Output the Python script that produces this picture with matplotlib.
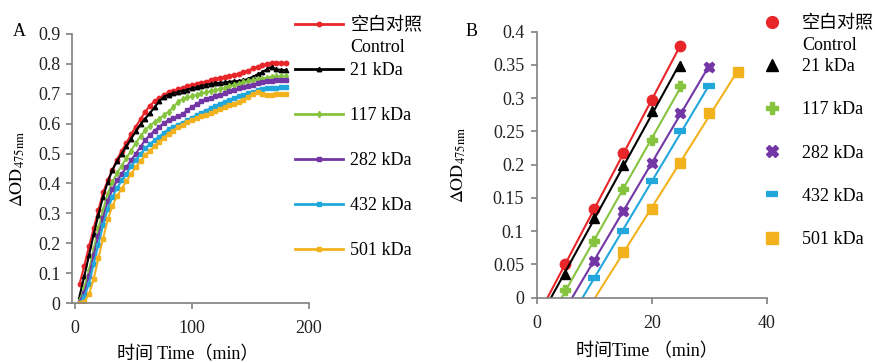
import numpy as np
import matplotlib
matplotlib.use("Agg")
import matplotlib.pyplot as plt
from matplotlib.lines import Line2D

# fonts: serif for latin text, CJK fallback for the chinese words
plt.rcParams['font.family'] = ['Liberation Serif', 'Noto Sans CJK SC']
plt.rcParams['mathtext.fontset'] = 'stix'

labels = ["空白对照", "21 kDa", "117 kDa", "282 kDa", "432 kDa", "501 kDa"]
colors = ["#e8262a", "#000000", "#86c440", "#7236a5", "#22a7dc", "#f2b21e"]

# ---- panel A: time course (min) ----
time_a = np.arange(4, 181, 4)
ctrl_a = [0.065, 0.125, 0.19, 0.25, 0.31, 0.37, 0.41, 0.445, 0.48, 0.51, 0.535, 0.565, 0.59, 0.615, 0.64,
          0.66, 0.675, 0.685, 0.695, 0.705, 0.71, 0.715, 0.72, 0.725, 0.73, 0.732, 0.737, 0.74, 0.745, 0.75,
          0.752, 0.757, 0.76, 0.763, 0.767, 0.772, 0.777, 0.785, 0.79, 0.795, 0.8, 0.803, 0.803, 0.804, 0.803]
kda21_a = [0.025, 0.09, 0.16, 0.23, 0.295, 0.355, 0.405, 0.445, 0.475, 0.5, 0.525, 0.55, 0.575, 0.598, 0.617,
           0.635, 0.655, 0.675, 0.69, 0.697, 0.702, 0.706, 0.71, 0.714, 0.718, 0.722, 0.726, 0.73, 0.733, 0.735,
           0.737, 0.738, 0.74, 0.742, 0.743, 0.745, 0.75, 0.757, 0.765, 0.772, 0.782, 0.79, 0.782, 0.78, 0.779]
kda117_a = [0.01, 0.05, 0.11, 0.18, 0.25, 0.31, 0.365, 0.405, 0.435, 0.46, 0.485, 0.51, 0.535, 0.558, 0.578,
            0.593, 0.605, 0.616, 0.628, 0.64, 0.655, 0.672, 0.682, 0.688, 0.692, 0.697, 0.701, 0.705, 0.709, 0.712,
            0.716, 0.72, 0.725, 0.73, 0.734, 0.738, 0.742, 0.745, 0.748, 0.751, 0.754, 0.757, 0.758, 0.759, 0.759]
kda282_a = [0.005, 0.035, 0.09, 0.16, 0.225, 0.285, 0.34, 0.38, 0.41, 0.432, 0.455, 0.478, 0.5, 0.523, 0.545,
            0.562, 0.577, 0.59, 0.602, 0.612, 0.618, 0.624, 0.632, 0.645, 0.656, 0.666, 0.675, 0.682, 0.687, 0.691,
            0.696, 0.702, 0.708, 0.713, 0.718, 0.722, 0.727, 0.731, 0.735, 0.739, 0.742, 0.744, 0.745, 0.746, 0.746]
kda432_a = [0.0, 0.02, 0.065, 0.13, 0.195, 0.26, 0.315, 0.355, 0.385, 0.41, 0.433, 0.457, 0.478, 0.498, 0.517,
            0.532, 0.545, 0.557, 0.57, 0.582, 0.59, 0.597, 0.603, 0.612, 0.62, 0.628, 0.636, 0.644, 0.652, 0.66,
            0.667, 0.674, 0.68, 0.686, 0.692, 0.697, 0.702, 0.707, 0.711, 0.715, 0.718, 0.72, 0.721, 0.722, 0.722]
kda501_a = [0.0, 0.005, 0.03, 0.08, 0.15, 0.215, 0.28, 0.325, 0.358, 0.383, 0.408, 0.432, 0.455, 0.475, 0.494,
            0.51, 0.525, 0.54, 0.553, 0.567, 0.577, 0.588, 0.597, 0.605, 0.612, 0.618, 0.624, 0.63, 0.635, 0.641,
            0.648, 0.655, 0.661, 0.667, 0.673, 0.68, 0.69, 0.7, 0.707, 0.7, 0.696, 0.697, 0.699, 0.7, 0.7]
series_a = [ctrl_a, kda21_a, kda117_a, kda282_a, kda432_a, kda501_a]
markers_a = ["o", "^", "d", "s", "s", "s"]

# ---- panel B: initial linear part ----
time_b = [[5, 10, 15, 20, 25], [5, 10, 15, 20, 25], [5, 10, 15, 20, 25],
          [10, 15, 20, 25, 30], [10, 15, 20, 25, 30], [15, 20, 25, 30, 35]]
ctrl_b = [0.05, 0.133, 0.218, 0.298, 0.378]
kda21_b = [0.035, 0.12, 0.2, 0.28, 0.348]
kda117_b = [0.012, 0.085, 0.163, 0.237, 0.318]
kda282_b = [0.055, 0.13, 0.203, 0.278, 0.347]
kda432_b = [0.03, 0.1, 0.175, 0.25, 0.318]
kda501_b = [0.068, 0.133, 0.203, 0.277, 0.34]
series_b = [ctrl_b, kda21_b, kda117_b, kda282_b, kda432_b, kda501_b]
markers_b = ["o", "^", "P", "X", "_", "s"]

fs = 13
fig = plt.figure(figsize=(8.76, 3.63), dpi=100)
W, H = 876.0, 363.0

def style_axes(ax):
    for s in ["top", "right"]:
        ax.spines[s].set_visible(False)
    for s in ["left", "bottom"]:
        ax.spines[s].set_color("#808080")
        ax.spines[s].set_linewidth(1.2)
    ax.tick_params(colors="#808080", labelcolor="#222222", labelsize=fs, width=1.2, length=4.5)

# panel A
axA = fig.add_axes([71.7 / W, 1 - 303 / H, 237.3 / W, 269 / H])
for y, c, m, lab in zip(series_a, colors, markers_a, labels):
    axA.plot(time_a, y, color=c, lw=1.5, marker=m, ms=3.2, mec=c, label=lab)
axA.set_xlim(-2.8, 200)
axA.set_ylim(0, 0.9)
axA.set_xticks([0, 100, 200])
axA.set_yticks(np.arange(0, 0.91, 0.1))
axA.set_yticklabels(["0"] + ["%.1f" % v for v in np.arange(0.1, 0.91, 0.1)])
style_axes(axA)
axA.tick_params(axis="x", pad=8)
axA.tick_params(axis="y", pad=3.5)
axA.set_xlabel("时间 Time（min）", fontsize=fs)
axA.xaxis.set_label_coords(0.49, -0.16)
axA.set_ylabel(r"$\Delta\mathrm{OD}_{475\mathrm{nm}}$", fontsize=fs)
axA.yaxis.set_label_coords(-0.19, 0.5)

hA = [Line2D([], [], color=c, lw=2, marker=m, ms=3.2) for c, m in zip(colors, markers_a)]
fig.legend(hA, labels, loc="upper left", bbox_to_anchor=(295 / W, 1 - 17 / H), frameon=False,
           fontsize=fs, handlelength=2.66, handletextpad=0.4, labelspacing=1.55,
           borderpad=0, borderaxespad=0, numpoints=1)
fig.text(350 / W, 1 - 47 / H, "Control", fontsize=fs, va="center", ha="left")
fig.text(19 / W, 1 - 32 / H, "A", fontsize=fs, va="center", ha="center")

# panel B
axB = fig.add_axes([536.7 / W, 1 - 297.7 / H, 230 / W, 266 / H])
for t, y, c, m in zip(time_b, series_b, colors, markers_b):
    k, b = np.polyfit(t, y, 1)
    x0 = -b / k
    axB.plot([x0, t[-1]], [0, k * t[-1] + b], color=c, lw=1.5)
    if m == "_":
        axB.plot(t, y, ls="none", marker=m, ms=9, mew=4.5, color=c)
    else:
        axB.plot(t, y, ls="none", marker=m, ms=7.5, color=c, mec=c)
axB.set_xlim(0, 40)
axB.set_ylim(0, 0.4)
axB.set_xticks([0, 20, 40])
axB.set_yticks(np.arange(0, 0.41, 0.05))
axB.set_yticklabels(["0", "0.05", "0.1", "0.15", "0.2", "0.25", "0.3", "0.35", "0.4"])
style_axes(axB)
axB.tick_params(axis="x", pad=8)
axB.tick_params(axis="y", pad=4.5)
axB.set_xlabel("时间Time （min）", fontsize=fs)
axB.xaxis.set_label_coords(0.48, -0.17)
axB.set_ylabel(r"$\Delta\mathrm{OD}_{475\mathrm{nm}}$", fontsize=fs)
axB.yaxis.set_label_coords(-0.3, 0.5)

hB = []
for c, m in zip(colors, markers_b):
    if m == "_":
        hB.append(Line2D([], [], ls="none", marker=m, ms=9, mew=4.5, color=c))
    else:
        hB.append(Line2D([], [], ls="none", marker=m, ms=8.5, color=c))
fig.legend(hB, labels, loc="upper left", bbox_to_anchor=(763 / W, 1 - 15 / H), frameon=False,
           fontsize=fs, handlelength=1.0, handletextpad=1.15, labelspacing=1.45,
           borderpad=0, borderaxespad=0, numpoints=1)
fig.text(802 / W, 1 - 45 / H, "Control", fontsize=fs, va="center", ha="left")
fig.text(472 / W, 1 - 32 / H, "B", fontsize=fs, va="center", ha="center")

fig.savefig("out.png", dpi=100)
